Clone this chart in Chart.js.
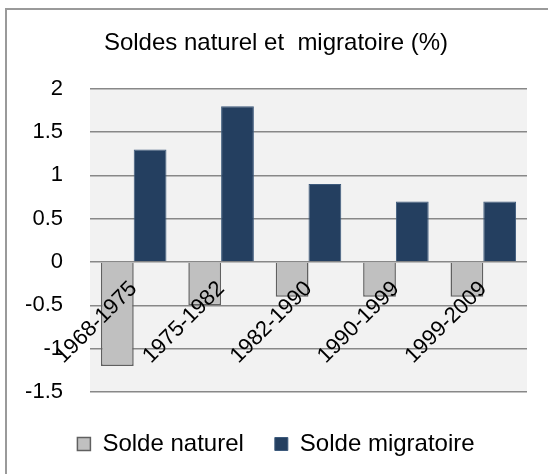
<!DOCTYPE html>
<html>
<head>
<meta charset="utf-8">
<script src="https://cdn.jsdelivr.net/npm/chart.js@4"></script>
<style>
  html, body { margin: 0; padding: 0; background: #fff; }
  #wrap { position: relative; width: 548px; height: 474px; overflow: hidden; }
  #frame { position: absolute; left: 5px; top: 8px; width: 600px; height: 600px;
           border-left: 2px solid #9a9a9a; border-top: 2px solid #9a9a9a; }
  #chart { position: absolute; left: 0; top: 0; }
</style>
</head>
<body>
<div id="wrap">
  <div id="frame"></div>
  <canvas id="chart" width="548" height="474"></canvas>
</div>
<script>
// periods on the x axis
const periodes = ['1968-1975', '1975-1982', '1982-1990', '1990-1999', '1999-2009'];
// values in %
const soldeNaturel = [-1.2, -0.5, -0.4, -0.4, -0.4];
const soldeMigratoire = [1.3, 1.8, 0.9, 0.7, 0.7];
// y axis
const yMin = -1.5, yMax = 2, yStep = 0.5;

const fontFamily = '"Liberation Sans", Arial, sans-serif';

// light grey background behind the plot
const plotBg = {
  id: 'plotBg',
  beforeDraw(chart) {
    const { ctx, chartArea: a } = chart;
    ctx.save();
    ctx.fillStyle = '#f2f2f2';
    ctx.fillRect(a.left, a.top, a.right - a.left, a.bottom - a.top);
    ctx.restore();
  }
};

new Chart(document.getElementById('chart'), {
  type: 'bar',
  data: {
    labels: periodes,
    datasets: [
      {
        label: 'Solde naturel',
        data: soldeNaturel,
        backgroundColor: '#c0c0c0',
        borderColor: '#606060',
        borderWidth: 1.5,
        categoryPercentage: 0.75,
        barPercentage: 1
      },
      {
        label: 'Solde migratoire',
        data: soldeMigratoire,
        backgroundColor: '#243f60',
        borderColor: '#3d5a7c',
        borderWidth: 1,
        categoryPercentage: 0.75,
        barPercentage: 1
      }
    ]
  },
  options: {
    responsive: false,
    animation: false,
    layout: { padding: { left: 25, right: 21, top: 0, bottom: 8 } },
    plugins: {
      title: {
        display: true,
        text: 'Soldes naturel et  migratoire (%)',
        color: '#000',
        font: { family: fontFamily, size: 24, weight: 'normal' },
        padding: { top: 29, bottom: 31 }
      },
      legend: {
        position: 'bottom',
        // empty title only used as a spacer above the legend row
        title: { display: true, text: '', font: { size: 1, lineHeight: 1 }, padding: { top: 8, bottom: 0 } },
        labels: {
          color: '#000',
          font: { family: fontFamily, size: 24 },
          boxWidth: 13,
          boxHeight: 13,
          padding: 31
        }
      },
      tooltip: { enabled: false }
    },
    scales: {
      x: {
        position: { y: 0 },
        grid: { display: false, drawTicks: false },
        border: { display: false },
        ticks: {
          z: 1,
          color: '#000',
          font: { family: fontFamily, size: 22 },
          minRotation: 45,
          maxRotation: 45,
          autoSkip: false,
          padding: 14
        }
      },
      y: {
        min: yMin,
        max: yMax,
        afterFit(scale) { scale.width = 65; },
        grid: { color: '#888888', lineWidth: 1.5, drawTicks: false },
        border: { display: false },
        ticks: {
          stepSize: yStep,
          color: '#000',
          font: { family: fontFamily, size: 22 },
          padding: 27,
          callback: v => String(Math.round(v * 10) / 10)
        }
      }
    }
  },
  plugins: [plotBg]
});
</script>
</body>
</html>
